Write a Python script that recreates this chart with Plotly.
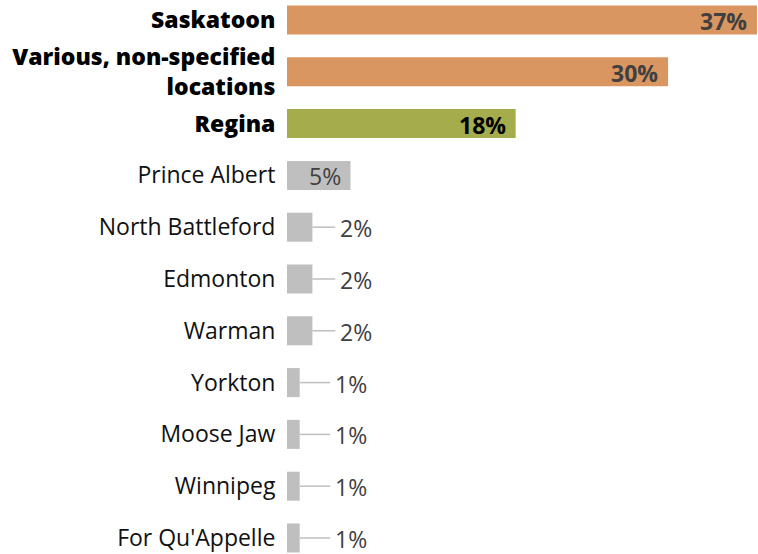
import plotly.graph_objects as go

categories = ["Saskatoon", "Various, non-specified<br>locations", "Regina", "Prince Albert",
              "North Battleford", "Edmonton", "Warman", "Yorkton", "Moose Jaw",
              "Winnipeg", "For Qu'Appelle"]
values = [37, 30, 18, 5, 2, 2, 2, 1, 1, 1, 1]
value_labels = ["37%", "30%", "18%", "5%", "2%", "2%", "2%", "1%", "1%", "1%", "1%"]
highlight = [True, True, True, False, False, False, False, False, False, False, False]

ORANGE = "#DA9660"
GREEN = "#A4AC4B"
GRAY = "#BFBFBF"
bar_colors = [ORANGE, ORANGE, GREEN] + [GRAY] * 8

ticktext = [
    "<br>".join(f'<span style="font-weight:800;color:#000">{part}</span>'
                for part in c.split("<br>")) if h else c
    for c, h in zip(categories, highlight)
]

fig = go.Figure(go.Bar(
    x=values, y=categories, orientation="h",
    marker=dict(color=bar_colors, line=dict(width=0)),
    width=0.56, hoverinfo="skip",
))

annotations = []
shapes = []
for i, (c, v, t) in enumerate(zip(categories, values, value_labels)):
    if v >= 5:
        bold = i < 3
        col = "#000000" if i == 2 else "#404040"
        annotations.append(dict(
            x=v, y=c, xref="x", yref="y", text=f"<b>{t}</b>" if bold else t,
            showarrow=False, xanchor="right", xshift=-8, yshift=-1,
            font=dict(family="Open Sans", size=23, color=col)))
    else:
        end = max(v + 1.8, 3.4)
        shapes.append(dict(type="line", xref="x", yref="y", x0=v, x1=end, y0=c, y1=c,
                           line=dict(color="#BFBFBF", width=1.5)))
        annotations.append(dict(
            x=end, y=c, xref="x", yref="y", text=t, showarrow=False,
            xanchor="left", xshift=3, yshift=-1,
            font=dict(family="Open Sans", size=23, color="#404040")))

fig.update_layout(
    width=758, height=554,
    margin=dict(l=287, r=0, t=0, b=0),
    paper_bgcolor="white", plot_bgcolor="white",
    showlegend=False,
    xaxis=dict(range=[0, 37.08], visible=False, fixedrange=True),
    yaxis=dict(
        categoryorder="array", categoryarray=categories,
        tickmode="array", tickvals=categories, ticktext=ticktext,
        range=[10.309, -0.386], showgrid=False, zeroline=False, showline=False,
        ticks="outside", ticklen=6, tickcolor="rgba(0,0,0,0)",
        tickfont=dict(family="Open Sans", size=23, color="#111111"),
    ),
    annotations=annotations, shapes=shapes,
)

fig.write_html("out.html")
